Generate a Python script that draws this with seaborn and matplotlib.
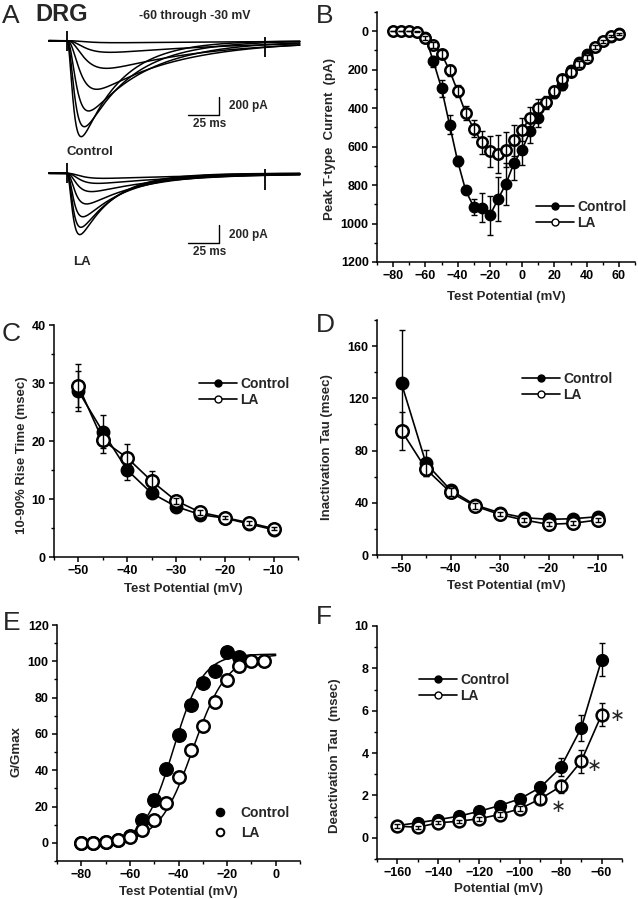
import numpy as np
import pandas as pd
import seaborn as sns
import matplotlib.pyplot as plt
from matplotlib.lines import Line2D
from matplotlib.ticker import MultipleLocator

W, H = 638, 899

# ---------------- A: example traces (-60 .. -30 mV, one cell) ----------------
trace_steps = [-60, -55, -50, -45, -40, -35, -30]
ctrl_peak = [22, 127, 302, 531, 768, 940, 1049]          # pA
ctrl_act_tau = [11, 10, 10, 7.3, 5.3, 4.3, 3.5]           # ms
ctrl_inact_tau = [150, 110, 80, 65, 48, 38, 32]           # ms
la_peak = [55, 110, 200, 335, 475, 590, 670]
la_act_tau = [8.1, 7.1, 5.8, 4.75, 3.9, 3.5, 3.25]
la_inact_tau = [110, 80, 60, 45, 36, 30, 27]
artifact_t = [0, 160]
artifact_lo = [-110, -180]
artifact_hi = [110, 45]

# ---------------- B: I-V ----------------
iv_v = [-80, -75, -70, -65, -60, -55, -50, -45, -40, -35, -30, -25, -20, -15,
        -10, -5, 0, 5, 10, 15, 20, 25, 30, 35, 40, 45, 50, 55, 60]
iv_ctrl = [0, 0, 0, 5, 31, 157, 296, 486, 675, 828, 914, 918, 958, 874,
           793, 684, 615, 519, 452, 375, 322, 279, 204, 161, 118, 83, 52, 28, 9]
iv_ctrl_err = [0, 0, 0, 3, 10, 30, 45, 50, 25, 20, 40, 75, 100, 115,
               110, 90, 80, 60, 45, 30, 25, 25, 20, 15, 12, 10, 8, 6, 5]
iv_la = [0, 0, 0, 3, 35, 71, 118, 204, 312, 426, 507, 577, 625, 637,
         616, 568, 512, 450, 398, 369, 312, 247, 213, 169, 138, 83, 52, 26, 14]
iv_la_err = [0, 0, 0, 3, 8, 15, 20, 30, 30, 35, 45, 60, 80, 100,
             90, 80, 60, 55, 45, 30, 25, 20, 20, 15, 12, 10, 8, 6, 5]

# ---------------- C: rise time ----------------
kin_v = [-50, -45, -40, -35, -30, -25, -20, -15, -10]
rise_ctrl = [28.6, 21.6, 15.0, 11.0, 8.7, 7.3, 6.7, 5.7, 4.7]
rise_ctrl_err = [3.5, 2.8, 1.7, 0.5, 0.4, 0.4, 0.3, 0.3, 0.3]
rise_la = [29.5, 20.1, 17.1, 13.1, 9.7, 7.7, 6.8, 5.9, 4.9]
rise_la_err = [3.7, 2.2, 2.3, 1.7, 0.5, 0.4, 0.3, 0.3, 0.3]

# ---------------- D: inactivation tau ----------------
inact_ctrl = [131.4, 70.2, 49.8, 38.3, 32.4, 28.6, 27.3, 27.8, 29.3]
inact_ctrl_err = [41, 10, 4, 2, 2, 1.5, 1.5, 1.5, 1.5]
inact_la = [95.2, 65.8, 48.0, 37.5, 31.1, 26.8, 23.5, 24.3, 26.8]
inact_la_err = [14.5, 5, 3, 2, 1.5, 1.5, 1.5, 1.5, 1.5]

# ---------------- E: activation (G/Gmax) ----------------
act_v = [-80, -75, -70, -65, -60, -55, -50, -45, -40, -35, -30, -25, -20, -15, -10, -5]
act_ctrl = [0, 0, 0.5, 1.5, 3.5, 12.4, 23.8, 40.5, 59.2, 76.2, 88.2, 94.5, 105.2, 102.1, np.nan, np.nan]
act_la = [0, 0, 0.4, 1.3, 3.2, 7.2, 12.4, 22.2, 36.0, 51.4, 64.3, 77.6, 89.8, 97.6, 100.2, 100.2]
boltz_ctrl = dict(gmax=104, vhalf=-42, k=6.0)
boltz_la = dict(gmax=104, vhalf=-34, k=7.0)

# ---------------- F: deactivation tau ----------------
deact_v = [-160, -150, -140, -130, -120, -110, -100, -90, -80, -70, -60]
deact_ctrl = [0.58, 0.71, 0.86, 1.02, 1.25, 1.52, 1.84, 2.38, 3.33, 5.18, 8.4]
deact_ctrl_err = [0.08, 0.08, 0.08, 0.1, 0.1, 0.1, 0.12, 0.25, 0.43, 0.63, 0.78]
deact_la = [0.55, 0.5, 0.71, 0.78, 0.9, 1.1, 1.37, 1.84, 2.43, 3.61, 5.81]
deact_la_err = [0.08, 0.08, 0.08, 0.08, 0.1, 0.1, 0.12, 0.25, 0.3, 0.53, 0.55]
star_pos = [(-81, 1.45), (-63.5, 3.4), (-52.5, 5.75)]

# ---------------------------------------------------------------------------
sns.set_theme(style="ticks")
plt.rcParams["font.family"] = ["Liberation Sans", "DejaVu Sans"]
plt.rcParams["font.weight"] = "bold"
plt.rcParams["axes.labelweight"] = "bold"
plt.rcParams["axes.linewidth"] = 1.1
for a in ("x", "y"):
    plt.rcParams[f"{a}tick.major.size"] = 3.5
    plt.rcParams[f"{a}tick.minor.size"] = 2
    plt.rcParams[f"{a}tick.major.width"] = 1.1
    plt.rcParams[f"{a}tick.minor.width"] = 1.0
    plt.rcParams[f"{a}tick.major.pad"] = 2.5
    plt.rcParams[f"{a}tick.labelsize"] = 9
    plt.rcParams[f"{a}tick.color"] = "black"
    plt.rcParams[f"{a}tick.direction"] = "out"

fig = plt.figure(figsize=(W / 100, H / 100), dpi=100)


def px_axes(left, top, right, bottom):
    return fig.add_axes([left / W, 1 - bottom / H, (right - left) / W, (bottom - top) / H])


def fig_text(x, y, s, **kw):
    fig.text(x / W, 1 - y / H, s, **kw)


def style(ax, xlim, ylim, xmaj, xmin, ymaj, ymin, xlabel, ylabel, ylab_x, ylab_y, xlab_x, xlab_y):
    ax.set_xlim(*xlim)
    ax.set_ylim(*ylim)
    ax.xaxis.set_major_locator(MultipleLocator(xmaj))
    ax.xaxis.set_minor_locator(MultipleLocator(xmin))
    ax.yaxis.set_major_locator(MultipleLocator(ymaj))
    ax.yaxis.set_minor_locator(MultipleLocator(ymin))
    sns.despine(ax=ax)
    for s in ("left", "bottom"):
        ax.spines[s].set_color("black")
    ax.set_xlabel(xlabel, fontsize=9.5)
    ax.set_ylabel(ylabel, fontsize=9.5)
    ax.yaxis.set_label_coords(ylab_x, ylab_y)
    ax.xaxis.set_label_coords(xlab_x, xlab_y)


def series(ax, x, y, err, filled, ms, z):
    ax.errorbar(x, y, yerr=err, fmt="none", ecolor="black", elinewidth=1.0,
                capsize=2, capthick=1.0, zorder=z + 1)
    sns.lineplot(x=x, y=y, ax=ax, color="black", lw=1.2, marker="o", ms=ms,
                 mfc="black" if filled else "white", mec="black",
                 mew=1.0 if filled else 1.8, zorder=z)


def legend(ax, x, y, fs=10, spacing=0.15, markers_only=False):
    if markers_only:
        hs = [Line2D([], [], ls="none", marker="o", ms=5.5, mfc=c, mec="black", mew=1.4)
              for c in ("black", "white")]
        kw = dict(handlelength=1.0, handletextpad=1.0)
    else:
        hs = [Line2D([], [], color="black", lw=1.2, marker="o", ms=5, mfc=c, mec="black", mew=1.0)
              for c in ("black", "white")]
        kw = dict(handlelength=2.7, handletextpad=0.25)
    ax.legend(hs, ["Control", "LA"], loc="upper left", bbox_to_anchor=(x / W, 1 - y / H),
              bbox_transform=fig.transFigure, frameon=False, borderpad=0, borderaxespad=0,
              labelspacing=spacing, prop=dict(size=fs, weight="bold"), **kw)


# ---------------- A ----------------
t = np.linspace(-14.5, 188, 1200)


def trace_frame(peaks, act, inact):
    rows = []
    for step, A, tm, th in zip(trace_steps, peaks, act, inact):
        tt = np.clip(t, 0, None)
        f = (1 - np.exp(-tt / tm)) ** 3 * np.exp(-tt / th)
        rows.append(pd.DataFrame({"t": t, "I": -A * f / f.max(), "step": step}))
    return pd.concat(rows)


for peaks, act, inact, box, base_y, bar_bot in [
        (ctrl_peak, ctrl_act_tau, ctrl_inact_tau, (40, 25, 310, 150), 40.7, 115.0),
        (la_peak, la_act_tau, la_inact_tau, (40, 160, 310, 270), 173.3, 243.3)]:
    ax = px_axes(*box)
    px_ms = 31 / 25.0
    pa_px = 200 / 18.3
    ax.set_xlim((box[0] - 66.7) / px_ms, (box[2] - 66.7) / px_ms)
    ax.set_ylim(-(box[3] - base_y) * pa_px, (base_y - box[1]) * pa_px)
    ax.axis("off")
    sns.lineplot(data=trace_frame(peaks, act, inact), x="t", y="I", units="step",
                 estimator=None, color="black", lw=1.1, ax=ax)
    ax.vlines(artifact_t, artifact_lo, artifact_hi, color="black", lw=1.3)
    # scale bar 25 ms / 200 pA
    y0 = -(bar_bot - base_y) * pa_px
    x1 = (219.3 - 66.7) / px_ms
    ax.plot([x1 - 25, x1, x1], [y0, y0, y0 + 200], color="black", lw=1.0)
    ax.text(x1 + 8, y0 + 95, "200 pA", fontsize=8.5, va="center", ha="left")
    ax.text(x1 - 8, y0 - 100, "25 ms", fontsize=8.5, va="center", ha="center")

fig_text(90, 152, "Control", fontsize=9.5, ha="center", va="center")
fig_text(82, 262, "LA", fontsize=9.5, ha="center", va="center")
fig_text(35, 21, "DRG", fontsize=17, ha="left", va="baseline")
fig_text(195, 19, "-60 through -30 mV", fontsize=8.8, ha="center", va="baseline")

# ---------------- B ----------------
axB = px_axes(377, 12, 635, 262)
series(axB, iv_v, iv_ctrl, iv_ctrl_err, True, 7.5, 3)
series(axB, iv_v, iv_la, iv_la_err, False, 7.5, 5)
style(axB, (-90, 70), (1200, -100), 20, 10, 200, 100, "Test Potential (mV)",
      "Peak T-type  Current  (pA)", -0.159, 0.49, 0.5, -0.116)
legend(axB, 536, 200)

# ---------------- C ----------------
axC = px_axes(54, 325, 298, 557)
series(axC, kin_v, rise_ctrl, rise_ctrl_err, True, 9, 3)
series(axC, kin_v, rise_la, rise_la_err, False, 9, 5)
style(axC, (-55, -5), (0, 40), 10, 5, 10, 5, "Test Potential (mV)",
      "10-90% Rise Time (msec)", -0.107, 0.44, 0.528, -0.11)
legend(axC, 199, 377)

# ---------------- D ----------------
axD = px_axes(377, 320, 622, 555)
series(axD, kin_v, inact_ctrl, inact_ctrl_err, True, 9, 3)
series(axD, kin_v, inact_la, inact_la_err, False, 9, 5)
style(axD, (-55, -5), (0, 180), 10, 5, 40, 20, "Test Potential (mV)",
      "Inactivation Tau (msec)", -0.181, 0.46, 0.526, -0.106)
legend(axD, 522, 372)

# ---------------- E ----------------
axE = px_axes(57, 625, 300, 861)
vfit = np.linspace(-80, 0, 300)
for p in (boltz_ctrl, boltz_la):
    sns.lineplot(x=vfit, y=p["gmax"] / (1 + np.exp((p["vhalf"] - vfit) / p["k"])),
                 ax=axE, color="black", lw=1.1, zorder=2)
sns.scatterplot(x=act_v, y=act_ctrl, ax=axE, s=95, color="black", edgecolor="black",
                linewidth=1.0, zorder=3)
sns.scatterplot(x=act_v, y=act_la, ax=axE, s=80, color="white", edgecolor="black",
                linewidth=1.8, zorder=4)
style(axE, (-90, 10), (-10, 120), 20, 10, 20, 10, "Test Potential (mV)",
      "G/Gmax", -0.144, 0.463, 0.5, -0.106)
legend(axE, 213, 806, markers_only=True, spacing=0.45)

# ---------------- F ----------------
axF = px_axes(377, 626, 622, 859)
series(axF, deact_v, deact_ctrl, deact_ctrl_err, True, 8.5, 3)
series(axF, deact_v, deact_la, deact_la_err, False, 8.5, 5)
for sx, sy in star_pos:
    axF.text(sx, sy, "\u2217", fontsize=13, fontweight="normal", ha="center", va="center",
             family=["DejaVu Sans"])
style(axF, (-170, -50), (-1, 10), 20, 10, 2, 1, "Potential (mV)",
      "Deactivation Tau  (msec)", -0.146, 0.443, 0.497, -0.104)
legend(axF, 419, 673)

# panel letters
for letter, x, y in [("A", 2, 23), ("B", 316, 23), ("C", 2, 341), ("D", 316, 332),
                     ("E", 3, 630), ("F", 316, 624)]:
    fig_text(x, y, letter, fontsize=19, fontweight="normal", va="baseline", ha="left")

fig.savefig("out.png", dpi=100)
